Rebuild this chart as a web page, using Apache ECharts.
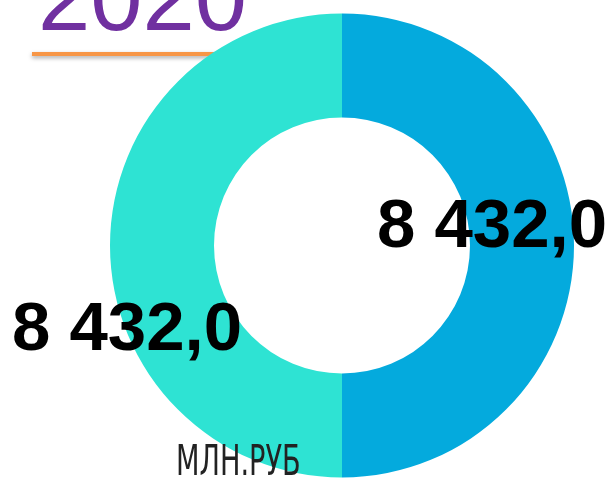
<!DOCTYPE html>
<html>
<head>
    <meta charset="utf-8">
    <title>2020</title>
    <script src="https://cdn.jsdelivr.net/npm/echarts@6.0.0/dist/echarts.min.js"></script>
    <style>
        html, body {
            margin: 0;
            padding: 0;
            width: 100%;
            height: 100%;
            overflow: hidden;
            background: #fff;
        }
        #chart {
            width: 610px;
            height: 481px;
        }
    </style>
</head>
<body>
    <div id="chart"></div>
    <script>
        // данные
        const titleText = '2020';
        const unitText = 'МЛН.РУБ';
        const sliceNames = ['Часть 1', 'Часть 2'];
        const sliceValues = [8432.0, 8432.0];
        const sliceColors = ['#04aadd', '#2ee3d3'];
        // сдвиг подписей от середины кольца
        const labelShift = [[-33, -18], [-32, 85]];

        const fmt = (v) => {
            const parts = v.toFixed(1).split('.');
            return parts[0].replace(/\B(?=(\d{3})+(?!\d))/g, ' ') + ',' + parts[1];
        };

        const chart = echarts.init(document.getElementById('chart'), null, { renderer: 'canvas' });

        chart.setOption({
            backgroundColor: '#fff',
            animation: false,
            graphic: [
                {
                    type: 'text',
                    left: 38,
                    top: -43,
                    z: 1,
                    style: {
                        text: titleText,
                        font: '94px "Liberation Sans", Arial, sans-serif',
                        fill: '#7030a0'
                    }
                },
                {
                    type: 'rect',
                    z: 0,
                    shape: { x: 32, y: 52, width: 210, height: 4 },
                    style: {
                        fill: '#f79646',
                        shadowColor: 'rgba(0,0,0,0.35)',
                        shadowBlur: 4,
                        shadowOffsetY: 2
                    }
                },
                {
                    type: 'text',
                    x: 176,
                    y: 443,
                    scaleX: 0.72,
                    z: 10,
                    style: {
                        text: unitText,
                        font: '300 42px "Liberation Sans Narrow", "DejaVu Sans Condensed", sans-serif',
                        fill: '#222'
                    }
                }
            ],
            series: [{
                type: 'pie',
                center: [342, 245.5],
                radius: [128, 232],
                startAngle: 90,
                clockwise: true,
                silent: true,
                z: 5,
                data: sliceValues.map((v, i) => ({
                    name: sliceNames[i],
                    value: v,
                    itemStyle: { color: sliceColors[i] }
                })),
                label: {
                    show: true,
                    position: 'inside',
                    formatter: (p) => fmt(p.value),
                    color: '#000',
                    fontFamily: '"Liberation Sans", Arial, sans-serif',
                    fontWeight: 'bold',
                    fontSize: 69
                },
                labelLayout: (params) => ({
                    dx: labelShift[params.dataIndex][0],
                    dy: labelShift[params.dataIndex][1]
                }),
                labelLine: { show: false }
            }]
        });
    </script>
</body>
</html>
